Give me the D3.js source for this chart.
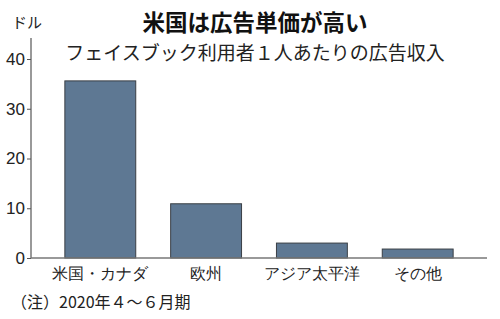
<!DOCTYPE html>
<html>
<head>
<meta charset="utf-8">
<script src="https://cdn.jsdelivr.net/npm/d3@7"></script>
<style>
  body { margin: 0; background: #fff; }
  svg { display: block; font-family: "Noto Sans CJK JP", "Noto Sans", sans-serif; }
</style>
</head>
<body>
<div id="chart"></div>
<script>
// data
const categories = ['米国・カナダ', '欧州', 'アジア太平洋', 'その他']
const values = [35.6, 10.9, 3.0, 1.8]
const yTicks = [0, 10, 20, 30, 40]

const width = 500, height = 319
const plot = { left: 31, right: 487, top: 38, bottom: 258 }

let svg = d3.select('#chart')
    .append('svg')
    .attr('width', width)
    .attr('height', height)

let x = d3.scaleBand()
    .domain(categories)
    .range([plot.left, plot.right])
    .paddingInner(0.33)
    .paddingOuter(0.32)

let y = d3.scaleLinear()
    .domain([0, 40])
    .range([plot.bottom, 59])

// bars
svg.append('g')
    .attr('class', 'bar')
    .selectAll('rect')
    .data(categories)
    .enter()
    .append('rect')
    .attr('x', d => x(d))
    .attr('y', (d, i) => y(values[i]))
    .attr('width', x.bandwidth())
    .attr('height', (d, i) => y(0) - y(values[i]))
    .attr('fill', '#5e7893')
    .attr('stroke', '#3a3f45')
    .attr('stroke-width', 1)

// y axis
let yAxis = svg.append('g')
    .attr('class', 'y-axis')
    .attr('transform', 'translate(' + plot.left + ',0)')
    .call(d3.axisLeft(y).tickValues(yTicks).tickSize(4).tickPadding(2))

yAxis.select('.domain').remove()
yAxis.append('line')
    .attr('y1', plot.top)
    .attr('y2', plot.bottom)
    .attr('stroke', '#555')
    .attr('stroke-width', 1.2)
yAxis.selectAll('.tick line').attr('stroke', '#555')
yAxis.selectAll('.tick text')
    .attr('font-size', 17)
    .attr('fill', '#222')
    .attr('font-family', '"Liberation Sans Narrow", "Liberation Sans", sans-serif')

// x axis
let xAxis = svg.append('g')
    .attr('class', 'x-axis')
    .attr('transform', 'translate(0,' + plot.bottom + ')')
    .call(d3.axisBottom(x).tickSize(0).tickPadding(8))

xAxis.select('.domain').remove()
xAxis.append('line')
    .attr('x1', plot.left)
    .attr('x2', plot.right)
    .attr('stroke', '#777')
    .attr('stroke-width', 1.5)
xAxis.selectAll('.tick text')
    .attr('font-size', 15.5)
    .attr('fill', '#222')
    .attr('dy', '0.85em')

// titles
svg.append('text')
    .attr('x', 255)
    .attr('y', 31)
    .attr('text-anchor', 'middle')
    .attr('font-size', 22.5)
    .attr('font-weight', 'bold')
    .attr('fill', '#111')
    .text('米国は広告単価が高い')

svg.append('text')
    .attr('x', 255)
    .attr('y', 60)
    .attr('text-anchor', 'middle')
    .attr('font-size', 19)
    .attr('fill', '#222')
    .text('フェイスブック利用者１人あたりの広告収入')

svg.append('text')
    .attr('x', 12)
    .attr('y', 28)
    .attr('font-size', 15)
    .attr('fill', '#222')
    .text('ドル')

svg.append('text')
    .attr('x', 11)
    .attr('y', 308)
    .attr('font-size', 16)
    .attr('fill', '#222')
    .text('（注）2020年４～６月期')
</script>
</body>
</html>
